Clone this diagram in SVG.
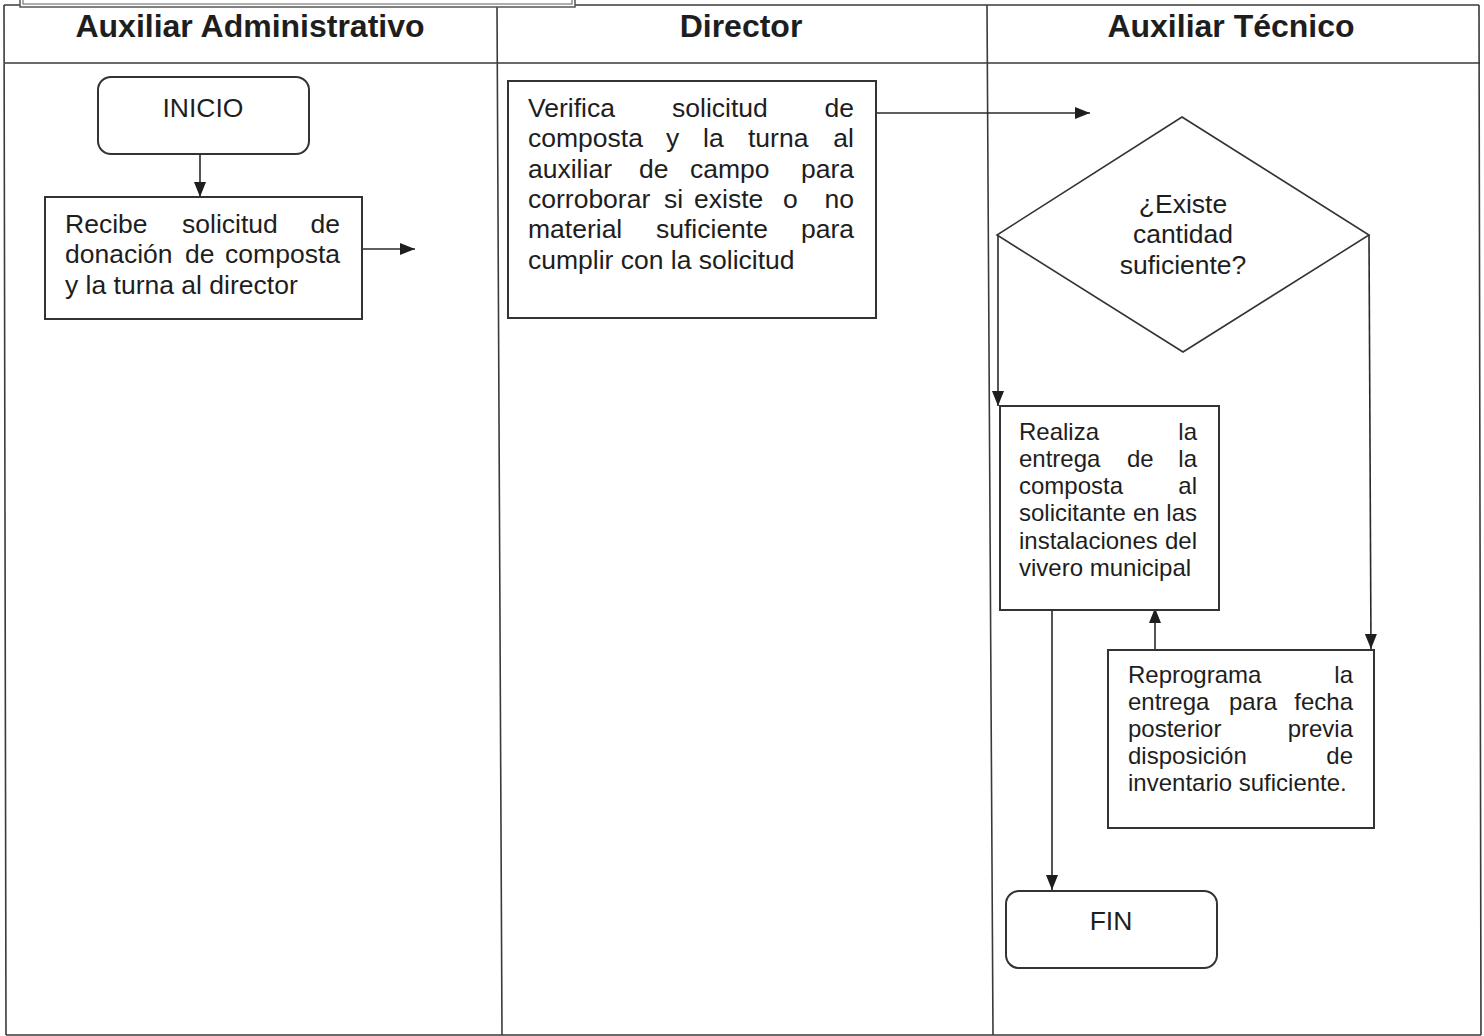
<svg xmlns="http://www.w3.org/2000/svg" width="1484" height="1036" viewBox="0 0 1484 1036">
<style>
.grid{stroke:#3a3a3a;stroke-width:1.6;fill:none}
.box{fill:#fff;stroke:#333;stroke-width:2}
.con{stroke:#2a2a2a;stroke-width:1.6;fill:none}
.hd{font-family:"Liberation Sans",Arial,sans-serif;font-weight:bold;font-size:32px;fill:#1e1e1e;text-anchor:middle}
.t{font-family:"Liberation Sans",Arial,sans-serif;font-size:26.5px;fill:#1e1e1e}
.s{font-family:"Liberation Sans",Arial,sans-serif;font-size:24px;fill:#1e1e1e}
.m{text-anchor:middle}
.e{text-anchor:end}
</style>
<defs>
<marker id="ah" markerUnits="userSpaceOnUse" markerWidth="15" markerHeight="12" refX="15" refY="6" orient="auto">
<path d="M0,0 L15,6 L0,12 z" fill="#1e1e1e"/>
</marker>
</defs>
<rect width="1484" height="1036" fill="#fff"/>
<g id="table">
<path class="grid" d="M4,5 L1479,5 M4,5 L6,1035 M1479,5 L1481,1035 M6,1035 L1481,1035 M5,63 L1480,63 M497,5 L502,1035 M987,5 L993,1035"/>
<rect x="20" y="-12" width="555" height="19" fill="#fff" stroke="#555" stroke-width="1.5"/>
<rect x="23" y="-12" width="549" height="16" fill="none" stroke="#777" stroke-width="1.2"/>
<text class="hd" x="250" y="37">Auxiliar Administrativo</text>
<text class="hd" x="741" y="37">Director</text>
<text class="hd" x="1231" y="37">Auxiliar Técnico</text>
</g>
<g id="connectors">
<line class="con" x1="200" y1="154" x2="200" y2="197" marker-end="url(#ah)"/>
<line class="con" x1="362" y1="249" x2="415" y2="249" marker-end="url(#ah)"/>
<line class="con" x1="876" y1="113" x2="1090" y2="113" marker-end="url(#ah)"/>
<line class="con" x1="998" y1="235" x2="998" y2="406" marker-end="url(#ah)"/>
<line class="con" x1="1369" y1="235" x2="1371" y2="649" marker-end="url(#ah)"/>
<line class="con" x1="1155" y1="650" x2="1155" y2="608" marker-end="url(#ah)"/>
<line class="con" x1="1052" y1="611" x2="1052" y2="890" marker-end="url(#ah)"/>
</g>
<g id="inicio">
<rect class="box" x="98" y="77" width="211" height="77" rx="13"/>
<text class="t m" x="203" y="117">INICIO</text>
</g>
<g id="recibe">
<rect class="box" x="45" y="197" width="317" height="122"/>
<text class="t" x="65" y="233">Recibe</text><text class="t" x="182" y="233">solicitud</text><text class="t e" x="340" y="233">de</text>
<text class="t" x="65" y="263">donación</text><text class="t" x="185" y="263">de</text><text class="t e" x="340" y="263">composta</text>
<text class="t" x="65" y="294">y la turna al director</text>
</g>
<g id="verifica">
<rect class="box" x="508" y="81" width="368" height="237"/>
<text class="t" x="528" y="117">Verifica</text><text class="t" x="672" y="117">solicitud</text><text class="t e" x="854" y="117">de</text>
<text class="t" x="528" y="147">composta</text><text class="t" x="666" y="147">y</text><text class="t" x="703" y="147">la</text><text class="t" x="748" y="147">turna</text><text class="t e" x="854" y="147">al</text>
<text class="t" x="528" y="178">auxiliar</text><text class="t" x="639" y="178">de</text><text class="t" x="690" y="178">campo</text><text class="t e" x="854" y="178">para</text>
<text class="t" x="528" y="208">corroborar</text><text class="t" x="664" y="208">si</text><text class="t" x="694" y="208">existe</text><text class="t" x="783" y="208">o</text><text class="t e" x="854" y="208">no</text>
<text class="t" x="528" y="238">material</text><text class="t" x="656" y="238">suficiente</text><text class="t e" x="854" y="238">para</text>
<text class="t" x="528" y="269">cumplir con la solicitud</text>
</g>
<g id="decision">
<polygon points="1182,117 1369,235 1183,352 997,235" fill="#fff" stroke="#333" stroke-width="1.6"/>
<text class="t m" x="1183" y="213">¿Existe</text>
<text class="t m" x="1183" y="243">cantidad</text>
<text class="t m" x="1183" y="274">suficiente?</text>
</g>
<g id="realiza">
<rect class="box" x="1000" y="406" width="219" height="204"/>
<text class="s" x="1019" y="440">Realiza</text><text class="s e" x="1197" y="440">la</text>
<text class="s" x="1019" y="467">entrega</text><text class="s" x="1127" y="467">de</text><text class="s e" x="1197" y="467">la</text>
<text class="s" x="1019" y="494">composta</text><text class="s e" x="1197" y="494">al</text>
<text class="s" x="1019" y="521">solicitante</text><text class="s" x="1133" y="521">en</text><text class="s e" x="1197" y="521">las</text>
<text class="s" x="1019" y="549">instalaciones</text><text class="s e" x="1197" y="549">del</text>
<text class="s" x="1019" y="576">vivero municipal</text>
</g>
<g id="reprograma">
<rect class="box" x="1108" y="650" width="266" height="178"/>
<text class="s" x="1128" y="683">Reprograma</text><text class="s e" x="1353" y="683">la</text>
<text class="s" x="1128" y="710">entrega</text><text class="s" x="1229" y="710">para</text><text class="s e" x="1353" y="710">fecha</text>
<text class="s" x="1128" y="737">posterior</text><text class="s e" x="1353" y="737">previa</text>
<text class="s" x="1128" y="764">disposición</text><text class="s e" x="1353" y="764">de</text>
<text class="s" x="1128" y="791">inventario suficiente.</text>
</g>
<g id="fin">
<rect class="box" x="1006" y="891" width="211" height="77" rx="13"/>
<text class="t m" x="1111" y="930">FIN</text>
</g>
</svg>
